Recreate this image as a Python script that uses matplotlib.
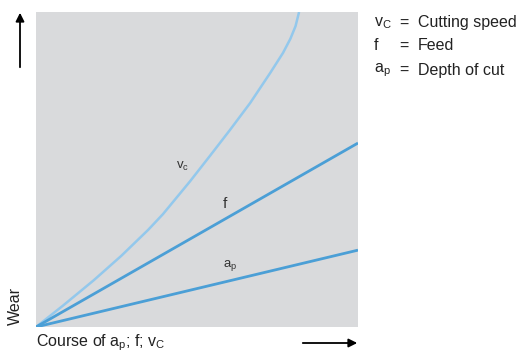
import matplotlib.pyplot as plt
from matplotlib.patches import FancyArrowPatch

# Wear curves (normalised 0..1 on both axes)
vc_x = [0.0, 0.084, 0.180, 0.265, 0.348, 0.394, 0.478, 0.540, 0.602, 0.665, 0.727, 0.767, 0.790, 0.806, 0.817]
vc_y = [0.0, 0.068, 0.149, 0.226, 0.308, 0.358, 0.462, 0.543, 0.625, 0.711, 0.806, 0.870, 0.915, 0.955, 1.0]
f_x = [0.0, 1.0]
f_y = [0.0, 0.584]
ap_x = [0.0, 1.0]
ap_y = [0.0, 0.244]

legend_syms = [r'v$_\mathregular{C}$', 'f', r'a$_\mathregular{p}$']
legend_names = ['Cutting speed', 'Feed', 'Depth of cut']

plt.rcParams['font.family'] = ['Liberation Sans', 'DejaVu Sans']
plt.rcParams['mathtext.fontset'] = 'custom'
plt.rcParams['mathtext.rm'] = 'Liberation Sans'
plt.rcParams['mathtext.it'] = 'Liberation Sans'

fig = plt.figure(figsize=(5.25, 3.58), dpi=100)
ax = fig.add_axes([36 / 525, 31 / 358, 322 / 525, 315 / 358])
ax.set_facecolor('#d9dadc')
for s in ax.spines.values():
    s.set_visible(False)
ax.set_xticks([])
ax.set_yticks([])
ax.set_xlim(0, 1)
ax.set_ylim(0, 1)

light = '#93c8ec'
dark = '#4b9fd6'
ax.plot(vc_x, vc_y, color=light, lw=1.8, solid_capstyle='butt', solid_joinstyle='round')
ax.plot(f_x, f_y, color=dark, lw=2.0, solid_capstyle='butt')
ax.plot(ap_x, ap_y, color=dark, lw=2.0, solid_capstyle='butt')

txt = '#333333'
ax.text(0.455, 0.51, r'v$_\mathregular{c}$', fontsize=9.5, color=txt, ha='center', va='center')
ax.text(0.588, 0.39, 'f', fontsize=11, color=txt, ha='center', va='center')
ax.text(0.603, 0.195, r'a$_\mathregular{p}$', fontsize=9.5, color=txt, ha='center', va='center')

# notes on the right
ys = [23, 46, 70]
for sym, name, y in zip(legend_syms, legend_names, ys):
    fy = 1 - y / 358
    fig.text(374 / 525, fy, sym, fontsize=11.5, color='#222222', va='center', ha='left')
    fig.text(399 / 525, fy, '=', fontsize=11.5, color='#222222', va='center', ha='left')
    fig.text(418 / 525, fy, name, fontsize=11.5, color='#222222', va='center', ha='left')

# axis labels and arrows
fig.text(15 / 525, 1 - 306 / 358, 'Wear', rotation=90, fontsize=11.5, color='#222222',
         ha='center', va='center')
fig.text(36 / 525, 1 - 343 / 358, r'Course of a$_\mathregular{p}$; f; v$_\mathregular{C}$', fontsize=11.5,
         color='#222222', ha='left', va='center')
fig.add_artist(FancyArrowPatch(
    (20 / 525, 1 - 70 / 358), (20 / 525, 1 - 10 / 358), transform=fig.transFigure,
    arrowstyle='-|>,head_length=5,head_width=2.5', color='black', lw=1.3))
fig.add_artist(FancyArrowPatch(
    (300 / 525, 1 - 343 / 358), (360 / 525, 1 - 343 / 358), transform=fig.transFigure,
    arrowstyle='-|>,head_length=5,head_width=2.5', color='black', lw=1.3))

fig.savefig('out.png', dpi=100)
